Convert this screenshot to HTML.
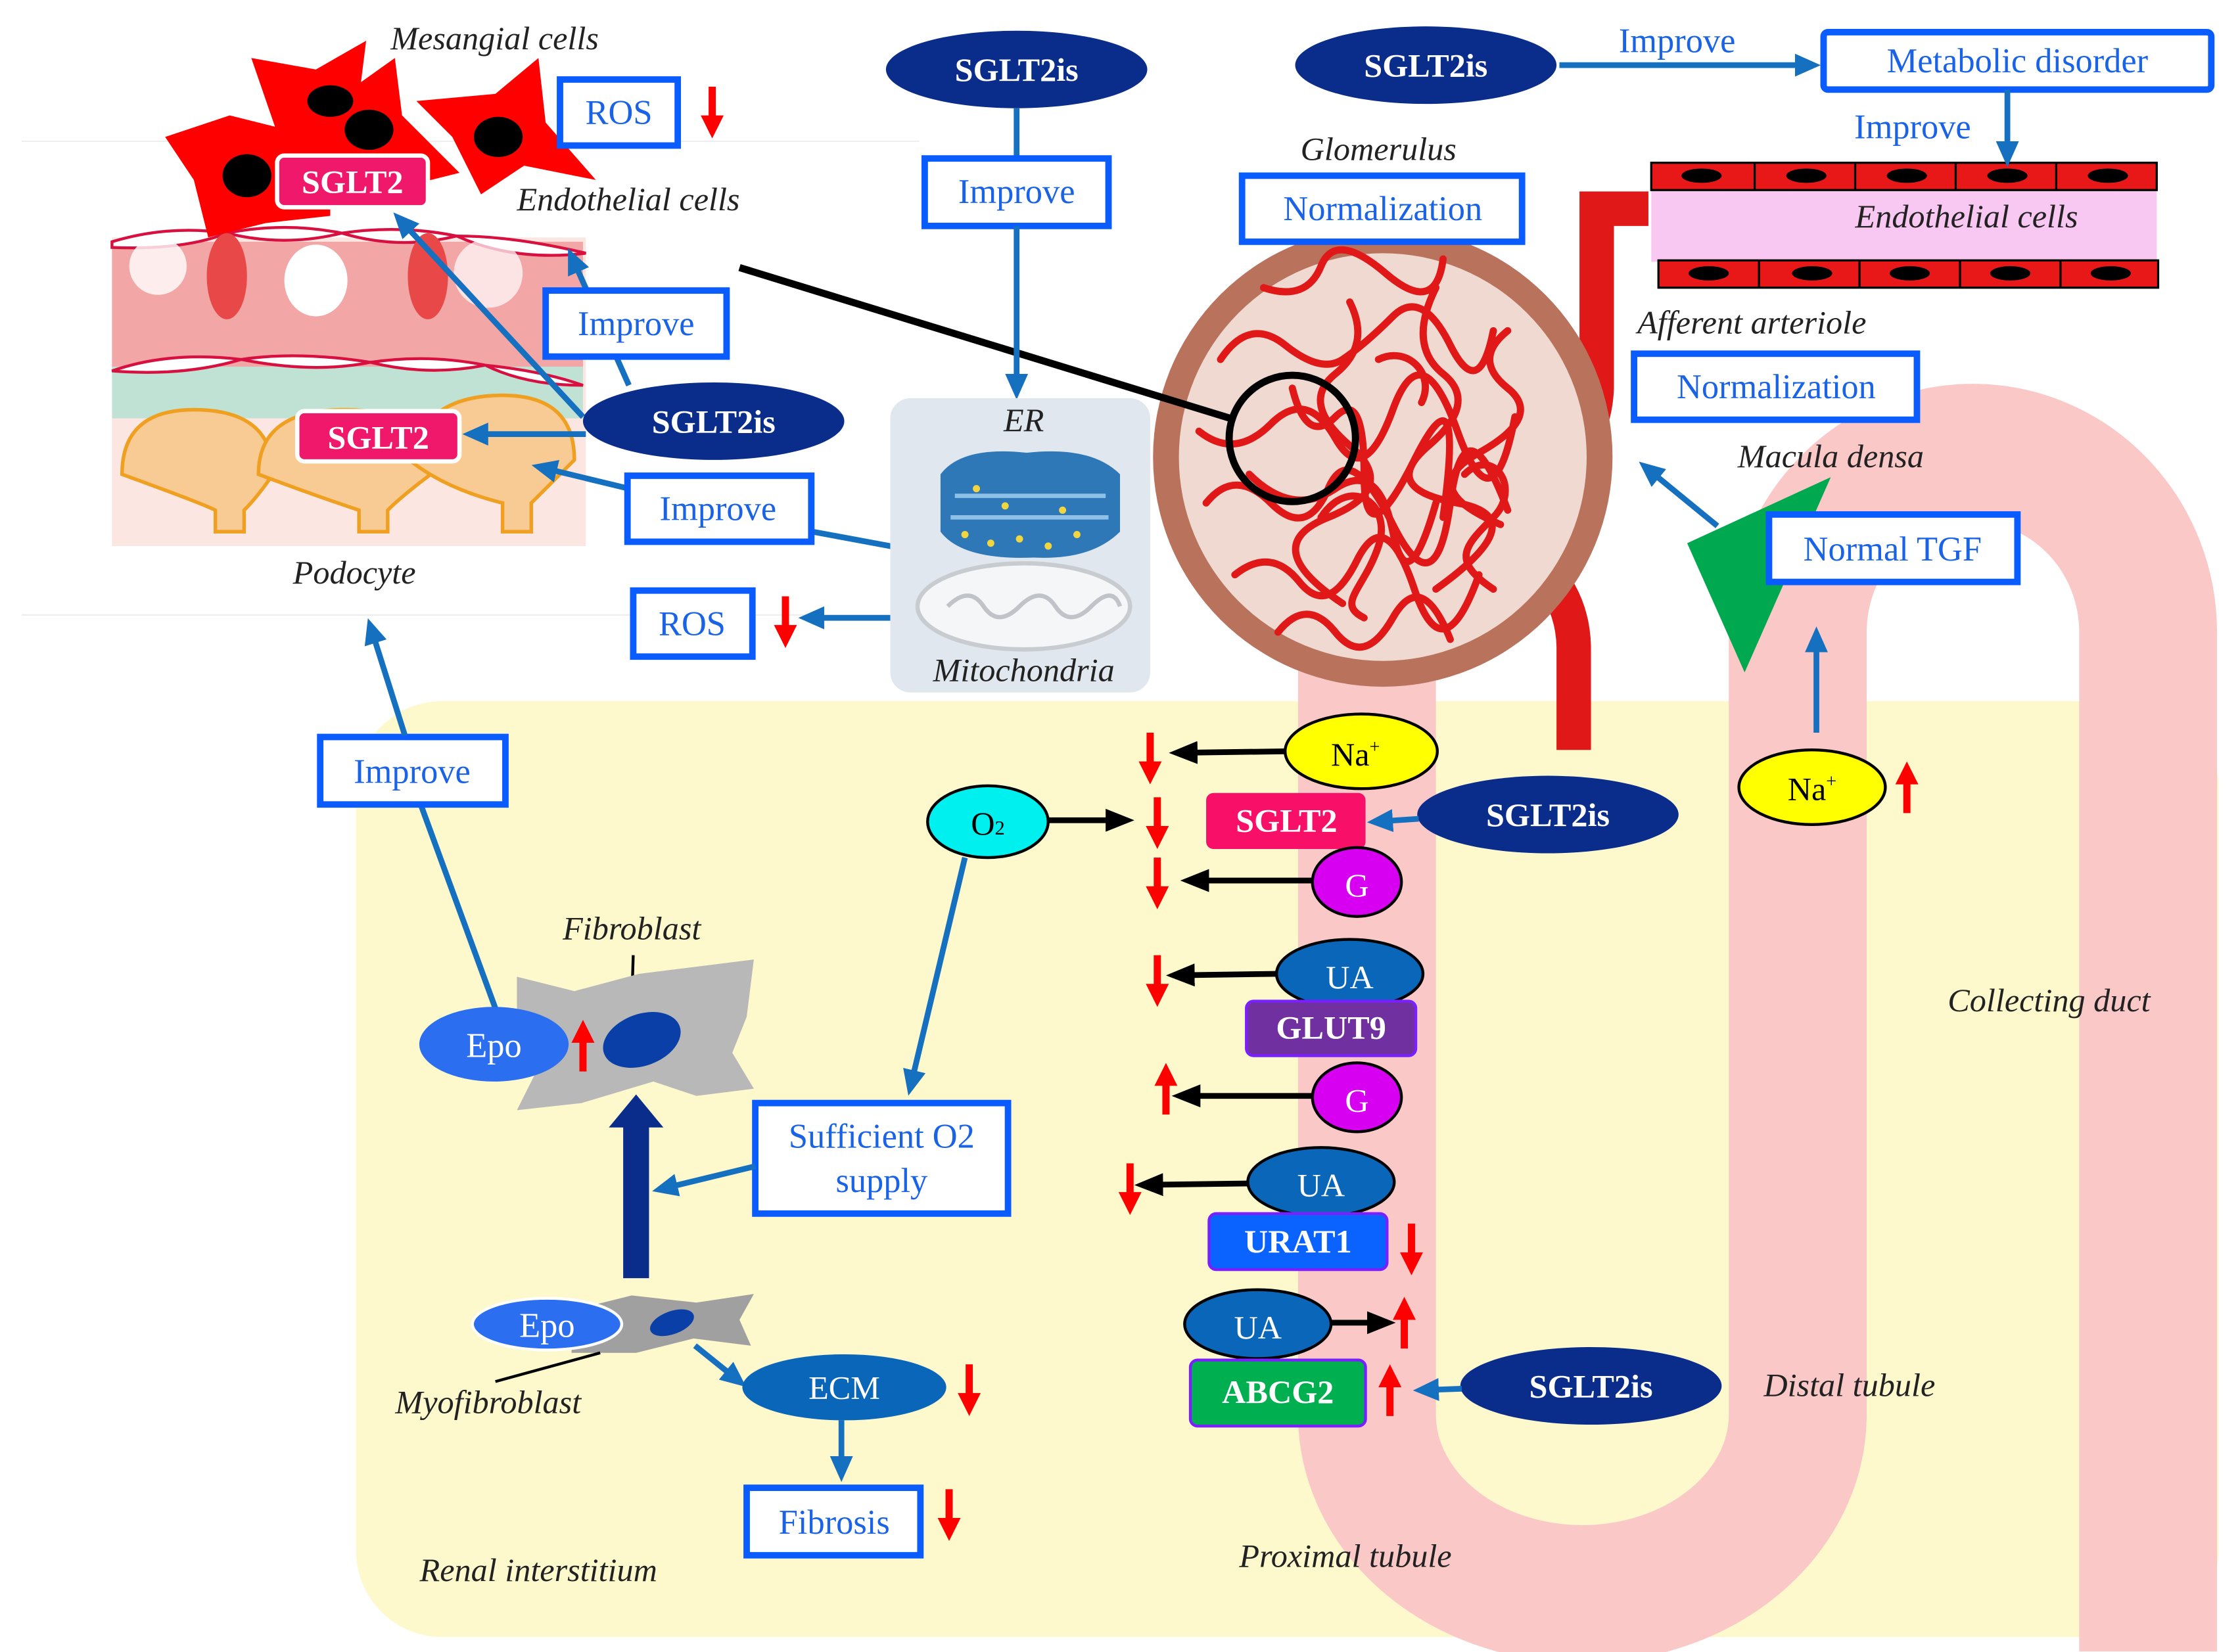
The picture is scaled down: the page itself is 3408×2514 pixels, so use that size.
<!DOCTYPE html>
<html><head><meta charset="utf-8"><style>
html,body{margin:0;padding:0;background:#fff}
svg{display:block}
text{font-family:"Liberation Serif",serif}
.bt{fill:#1a63e6;font-size:24px}
.it{font-style:italic;fill:#222;font-size:23px}
.wb{fill:#fff;font-weight:bold;font-size:23px}
.box{fill:#fff;stroke:#0a5cff;stroke-width:4.5}
.bl{stroke:#1570c0;stroke-width:4;fill:none}
.bk{stroke:#000;stroke-width:4;fill:none}
</style></head><body>
<svg width="3408" height="2514" viewBox="0 0 1560 1150" xmlns="http://www.w3.org/2000/svg">
<defs>
<marker id="ab" markerWidth="10" markerHeight="10" refX="6" refY="5" orient="auto" markerUnits="userSpaceOnUse" viewBox="0 0 10 10"><path d="M0,0 L10,5 L0,10 Z" fill="#1570c0" transform="scale(1)"/></marker>
<marker id="ab2" markerWidth="18" markerHeight="16" refX="12" refY="8" orient="auto" markerUnits="userSpaceOnUse"><path d="M0,0 L18,8 L0,16 Z" fill="#1570c0"/></marker>
<marker id="ak" markerWidth="20" markerHeight="16" refX="14" refY="8" orient="auto" markerUnits="userSpaceOnUse"><path d="M0,0 L20,8 L0,16 Z" fill="#000"/></marker>
<g id="rd"><rect x="-2.5" y="0" width="5" height="24" fill="#f00"/><path d="M-8,20 L8,20 L0,36 Z" fill="#f00"/></g>
<g id="ru"><rect x="-2.5" y="12" width="5" height="24" fill="#f00"/><path d="M-8,16 L8,16 L0,0 Z" fill="#f00"/></g>
</defs>

<!-- faint lines -->
<line x1="15" y1="98" x2="640" y2="98" stroke="#eee" stroke-width="1"/>
<line x1="15" y1="428" x2="640" y2="428" stroke="#eee" stroke-width="1"/>

<!-- yellow interstitium -->
<rect x="248" y="488" width="1297" height="652" rx="60" fill="#fdf9cc"/>

<!-- tubule -->
<path d="M952 460 V985 A150 125 0 0 0 1252 985 V440 A122 125 0 0 1 1496 440 V1150" fill="none" stroke="#fbc8c8" stroke-width="96"/>

<!-- efferent / afferent vessel -->
<path d="M1148 145 H1112 V270 Q1110 320 1060 335" fill="none" stroke="#e01818" stroke-width="24"/>
<path d="M1040 370 Q1095 400 1096 450 V522" fill="none" stroke="#e01818" stroke-width="24"/>

<!-- glomerulus -->
<circle cx="963" cy="318" r="160" fill="#b9735c"/>
<circle cx="963" cy="318" r="142" fill="#f0d9d0"/>
<g fill="none" stroke="#e01818" stroke-width="5" stroke-linecap="round">
<path d="M850 250 q20 -30 45 -10 t40 10 t35 -30 t40 20 t30 -10"/>
<path d="M835 300 q25 20 50 -5 t45 10 t40 -20 t45 15 t40 -10"/>
<path d="M840 350 q20 -25 45 0 t40 -10 t45 25 t40 -15 t40 5"/>
<path d="M860 400 q25 -20 45 5 t40 -15 t40 20 t45 -10"/>
<path d="M890 440 q20 -25 40 0 t40 -10 t40 15"/>
<path d="M880 200 q30 10 40 -15 t45 5 t40 -10"/>
<path d="M900 270 q10 40 30 20 t20 40 t35 -10 t20 40"/>
<path d="M1000 200 q-20 40 5 60 t-10 50 t20 40 t-15 60"/>
<path d="M940 210 q15 30 -10 50 t10 50 t-15 50 t10 60"/>
<path d="M1050 230 q-25 20 0 40 t-20 45 t15 50"/>
<path d="M870 330 q30 30 60 10 t40 30 t30 -20"/>
<path d="M920 360 c20 -30 50 -10 40 20 s-30 40 -10 50"/>
<path d="M1020 330 c20 -20 40 10 20 30 s-30 30 0 50"/>
<path d="M960 250 c20 -10 40 10 30 30"/>
</g>
<circle cx="900" cy="305" r="44" fill="none" stroke="#000" stroke-width="5"/>
<line x1="515" y1="186" x2="860" y2="292" stroke="#000" stroke-width="5"/>

<!-- top-right vessel -->
<rect x="1150" y="130" width="352" height="52" fill="#f9c8f2"/>
<rect x="1150" y="113" width="352" height="19" fill="#e81818" stroke="#000" stroke-width="1.5"/>
<rect x="1155" y="181" width="348" height="19" fill="#e81818" stroke="#000" stroke-width="1.5"/>
<g fill="#000">
<ellipse cx="1185" cy="122" rx="14" ry="5"/><ellipse cx="1258" cy="122" rx="14" ry="5"/><ellipse cx="1328" cy="122" rx="14" ry="5"/><ellipse cx="1398" cy="122" rx="14" ry="5"/><ellipse cx="1468" cy="122" rx="14" ry="5"/>
<ellipse cx="1190" cy="190" rx="14" ry="5"/><ellipse cx="1262" cy="190" rx="14" ry="5"/><ellipse cx="1330" cy="190" rx="14" ry="5"/><ellipse cx="1400" cy="190" rx="14" ry="5"/><ellipse cx="1470" cy="190" rx="14" ry="5"/>
</g>
<g stroke="#000" stroke-width="1.5"><line x1="1222" y1="113" x2="1222" y2="132"/><line x1="1292" y1="113" x2="1292" y2="132"/><line x1="1362" y1="113" x2="1362" y2="132"/><line x1="1432" y1="113" x2="1432" y2="132"/>
<line x1="1225" y1="181" x2="1225" y2="200"/><line x1="1295" y1="181" x2="1295" y2="200"/><line x1="1365" y1="181" x2="1365" y2="200"/><line x1="1435" y1="181" x2="1435" y2="200"/></g>
<text x="1292" y="158" class="it">Endothelial cells</text>

<!-- podocyte illustration -->
<rect x="78" y="165" width="330" height="215" fill="#fbe6e2"/>
<rect x="78" y="168" width="328" height="90" fill="#f3a6a6"/>
<rect x="78" y="255" width="328" height="36" fill="#bfe2d4"/>
<g fill="#f9cb94" stroke="#f0a020" stroke-width="2.5">
<path d="M85 330 q0 -45 50 -45 q55 0 55 45 q-10 15 -20 25 v15 h-20 v-15 q-10 -5 -65 -25z"/>
<path d="M180 330 q0 -45 60 -45 q60 0 60 45 q-20 15 -30 25 v15 h-20 v-15 q-30 -10 -70 -25z"/>
<path d="M285 320 q10 -45 65 -45 q50 0 50 45 q-15 15 -30 30 v20 h-20 v-20 q-40 -10 -65 -30z"/>
</g>
<g fill="#fff" stroke="#d81040" stroke-width="2">
<path d="M78 168 q40 -12 80 -6 q-30 12 -80 10z"/><path d="M158 162 q40 -8 80 0 q-40 10 -80 0z"/><path d="M238 162 q40 -6 80 2 q-40 10 -80 -2z"/><path d="M318 164 q40 0 90 12 q-50 6 -90 -12z"/>
<path d="M78 258 q40 -14 90 -8 q-40 12 -90 8z"/><path d="M168 250 q40 -6 90 2 q-40 8 -90 -2z"/><path d="M258 252 q40 -6 80 2 q-40 8 -80 -2z"/><path d="M338 254 q40 4 68 14 q-40 0 -68 -14z"/>
</g>
<ellipse cx="158" cy="192" rx="14" ry="30" fill="#e84848"/>
<ellipse cx="298" cy="192" rx="14" ry="30" fill="#e84848"/>
<ellipse cx="220" cy="195" rx="22" ry="25" fill="#fff"/>
<ellipse cx="110" cy="185" rx="20" ry="20" fill="#fff" opacity="0.8"/>
<ellipse cx="340" cy="190" rx="24" ry="24" fill="#fff" opacity="0.7"/>

<!-- mesangial cells -->
<g fill="#f00">
<path d="M175 40 l45 8 l35 -20 l-5 40 l30 30 l-50 10 l-30 25 l-5 -35 z"/>
<path d="M195 70 l45 -5 l35 -25 l5 40 l40 40 l-40 10 l-40 -20 l-40 -5 z"/>
<path d="M290 70 l55 -5 l30 -25 l5 45 l35 40 l-50 -10 l-30 20 l-20 -40 z"/>
<path d="M115 95 l45 -15 l40 10 l30 20 l0 40 l-45 5 l-40 10 l-10 -40 z"/>
</g>
<g fill="#000"><ellipse cx="230" cy="70" rx="16" ry="11"/><ellipse cx="257" cy="90" rx="17" ry="14"/><ellipse cx="347" cy="95" rx="17" ry="14"/><ellipse cx="172" cy="122" rx="17" ry="15"/></g>

<rect x="193" y="108" width="105" height="36" rx="5" fill="#f0186a" stroke="#fff" stroke-width="3"/>
<text x="245.5" y="134" class="wb" text-anchor="middle">SGLT2</text>
<rect x="207" y="286" width="113" height="35" rx="5" fill="#f0186a" stroke="#fff" stroke-width="3"/>
<text x="263.5" y="312" class="wb" text-anchor="middle">SGLT2</text>

<text x="272" y="34" class="it">Mesangial cells</text>
<text x="360" y="146" class="it">Endothelial cells</text>
<text x="204" y="406" class="it">Podocyte</text>

<!-- left-top arrows -->
<line x1="406" y1="290" x2="278" y2="152" class="bl" stroke-width="5" marker-end="url(#ab2)"/>
<line x1="408" y1="302" x2="328" y2="302" class="bl" stroke-width="5" marker-end="url(#ab2)"/>
<line x1="438" y1="268" x2="398" y2="178" class="bl" stroke-width="5" marker-end="url(#ab2)"/>
<line x1="438" y1="340" x2="376" y2="325" class="bl" stroke-width="5" marker-end="url(#ab2)"/>
<line x1="566" y1="370" x2="636" y2="383" class="bl" stroke-width="5"/>
<line x1="636" y1="430" x2="562" y2="430" class="bl" stroke-width="5" marker-end="url(#ab2)"/>

<rect x="390" y="55" width="82" height="46" class="box"/><text x="431" y="86" class="bt" text-anchor="middle">ROS</text>
<use href="#rd" x="496" y="60"/>
<rect x="380" y="202" width="126" height="46" class="box"/><text x="443" y="233" class="bt" text-anchor="middle">Improve</text>
<ellipse cx="497" cy="293" rx="91" ry="27" fill="#0a2d8c"/><text x="497" y="301" class="wb" text-anchor="middle">SGLT2is</text>
<rect x="437" y="331" width="128" height="46" class="box"/><text x="500" y="362" class="bt" text-anchor="middle">Improve</text>
<rect x="441" y="411" width="83" height="46" class="box"/><text x="482" y="442" class="bt" text-anchor="middle">ROS</text>
<use href="#rd" x="547" y="415"/>

<!-- top center -->
<ellipse cx="708" cy="48" rx="91" ry="27" fill="#0a2d8c"/><text x="708" y="56" class="wb" text-anchor="middle">SGLT2is</text>
<line x1="708" y1="75" x2="708" y2="110" class="bl" stroke-width="5"/>
<rect x="644" y="110" width="128" height="47" class="box"/><text x="708" y="141" class="bt" text-anchor="middle">Improve</text>
<line x1="708" y1="157" x2="708" y2="272" class="bl" stroke-width="5" marker-end="url(#ab2)"/>
<rect x="620" y="277" width="181" height="205" rx="14" fill="#e1e7ee"/>
<text x="713" y="300" class="it" text-anchor="middle">ER</text>
<path d="M655 330 q15 -20 60 -15 q45 -5 65 15 v40 q-20 20 -60 18 q-50 2 -65 -18 z" fill="#2f78b8"/>
<path d="M665 345 h105 M662 360 h110" stroke="#8ec0e8" stroke-width="3"/>
<g fill="#f2d640"><circle cx="672" cy="372" r="2.5"/><circle cx="690" cy="378" r="2.5"/><circle cx="710" cy="375" r="2.5"/><circle cx="730" cy="380" r="2.5"/><circle cx="750" cy="372" r="2.5"/><circle cx="700" cy="352" r="2.5"/><circle cx="740" cy="355" r="2.5"/><circle cx="680" cy="340" r="2.5"/></g>
<ellipse cx="713" cy="422" rx="74" ry="30" fill="#f4f6f8" stroke="#c8ccd0" stroke-width="3"/>
<path d="M660 422 q15 -15 25 0 t25 0 t25 0 t25 0 t20 0" stroke="#c0c4c8" stroke-width="3" fill="none"/>
<text x="713" y="474" class="it" text-anchor="middle">Mitochondria</text>

<!-- top right -->
<ellipse cx="993" cy="45" rx="91" ry="27" fill="#0a2d8c"/><text x="993" y="53" class="wb" text-anchor="middle">SGLT2is</text>
<line x1="1086" y1="45" x2="1262" y2="45" class="bl" stroke-width="5" marker-end="url(#ab2)"/>
<text x="1168" y="36" class="bt" text-anchor="middle">Improve</text>
<rect x="1270" y="22" width="270" height="40" rx="3" class="box"/><text x="1405" y="50" class="bt" text-anchor="middle">Metabolic disorder</text>
<line x1="1398" y1="62" x2="1398" y2="110" class="bl" stroke-width="5" marker-end="url(#ab2)"/>
<text x="1332" y="96" class="bt" text-anchor="middle">Improve</text>
<text x="960" y="111" class="it" text-anchor="middle">Glomerulus</text>
<rect x="865" y="122" width="195" height="46" class="box"/><text x="963" y="153" class="bt" text-anchor="middle">Normalization</text>
<text x="1220" y="232" class="it" text-anchor="middle">Afferent arteriole</text>
<rect x="1138" y="246" width="197" height="46" class="box"/><text x="1237" y="277" class="bt" text-anchor="middle">Normalization</text>
<text x="1275" y="325" class="it" text-anchor="middle">Macula densa</text>
<path d="M1175 378 L1275 332 L1215 468 Z" fill="#00a850"/>
<line x1="1196" y1="366" x2="1146" y2="325" class="bl" stroke-width="5" marker-end="url(#ab2)"/>
<rect x="1232" y="358" width="173" height="47" class="box"/><text x="1318" y="390" class="bt" text-anchor="middle">Normal TGF</text>
<line x1="1265" y1="510" x2="1265" y2="442" class="bl" stroke-width="5" marker-end="url(#ab2)"/>
<ellipse cx="1262" cy="548" rx="51" ry="26" fill="#ffff00" stroke="#000" stroke-width="2"/><text x="1262" y="557" font-size="23" text-anchor="middle">Na<tspan font-size="13" dy="-9">+</tspan></text>
<use href="#ru" x="1328" y="530"/>

<!-- tubule transport -->
<ellipse cx="948" cy="523" rx="53" ry="26" fill="#ffff00" stroke="#000" stroke-width="2"/><text x="944" y="533" font-size="23" text-anchor="middle">Na<tspan font-size="13" dy="-9">+</tspan></text>
<line x1="895" y1="523" x2="820" y2="524" class="bk" marker-end="url(#ak)"/>
<use href="#rd" x="801" y="510"/>
<ellipse cx="688" cy="572" rx="42" ry="25" fill="#00f0f0" stroke="#000" stroke-width="2"/><text x="688" y="581" font-size="23" text-anchor="middle">O<tspan font-size="14">2</tspan></text>
<line x1="730" y1="571" x2="784" y2="571" class="bk" marker-end="url(#ak)"/>
<use href="#rd" x="806" y="555"/>
<rect x="840" y="552" width="111" height="39" rx="5" fill="#f81068"/><text x="896" y="579" class="wb" text-anchor="middle">SGLT2</text>
<ellipse cx="1078" cy="567" rx="91" ry="27" fill="#0a2d8c"/><text x="1078" y="575" class="wb" text-anchor="middle">SGLT2is</text>
<line x1="988" y1="570" x2="958" y2="572" class="bl" stroke-width="5" marker-end="url(#ab2)"/>
<ellipse cx="945" cy="614" rx="31" ry="24" fill="#d800f0" stroke="#000" stroke-width="2"/><text x="945" y="624" font-size="23" fill="#fff" text-anchor="middle">G</text>
<line x1="914" y1="613" x2="828" y2="613" class="bk" marker-end="url(#ak)"/>
<use href="#rd" x="806" y="597"/>
<ellipse cx="940" cy="678" rx="51" ry="24" fill="#0a66b8" stroke="#000" stroke-width="2"/><text x="940" y="688" class="wb" style="font-weight:normal" text-anchor="middle">UA</text>
<line x1="889" y1="678" x2="818" y2="679" class="bk" marker-end="url(#ak)"/>
<use href="#rd" x="806" y="665"/>
<rect x="868" y="697" width="118" height="38" rx="5" fill="#7030a0" stroke="#7a20ff" stroke-width="2"/><text x="927" y="723" class="wb" text-anchor="middle">GLUT9</text>
<ellipse cx="945" cy="764" rx="31" ry="24" fill="#d800f0" stroke="#000" stroke-width="2"/><text x="945" y="774" font-size="23" fill="#fff" text-anchor="middle">G</text>
<line x1="914" y1="763" x2="822" y2="763" class="bk" marker-end="url(#ak)"/>
<use href="#ru" x="812" y="740"/>
<ellipse cx="920" cy="823" rx="51" ry="24" fill="#0a66b8" stroke="#000" stroke-width="2"/><text x="920" y="833" class="wb" style="font-weight:normal" text-anchor="middle">UA</text>
<line x1="869" y1="824" x2="796" y2="825" class="bk" marker-end="url(#ak)"/>
<use href="#rd" x="787" y="810"/>
<rect x="842" y="845" width="124" height="39" rx="5" fill="#0a62ff" stroke="#7a20ff" stroke-width="2"/><text x="904" y="872" class="wb" text-anchor="middle">URAT1</text>
<use href="#rd" x="983" y="852"/>
<ellipse cx="876" cy="922" rx="51" ry="24" fill="#0a66b8" stroke="#000" stroke-width="2"/><text x="876" y="932" class="wb" style="font-weight:normal" text-anchor="middle">UA</text>
<line x1="927" y1="921" x2="966" y2="921" class="bk" marker-end="url(#ak)"/>
<use href="#ru" x="978" y="903"/>
<rect x="829" y="947" width="122" height="46" rx="5" fill="#00b050" stroke="#7a20ff" stroke-width="2"/><text x="890" y="977" class="wb" text-anchor="middle">ABCG2</text>
<use href="#ru" x="968" y="950"/>
<ellipse cx="1108" cy="965" rx="91" ry="27" fill="#0a2d8c"/><text x="1108" y="973" class="wb" text-anchor="middle">SGLT2is</text>
<line x1="1018" y1="967" x2="990" y2="968" class="bl" stroke-width="5" marker-end="url(#ab2)"/>

<text x="1288" y="972" class="it" text-anchor="middle">Distal tubule</text>
<text x="1427" y="704" class="it" text-anchor="middle">Collecting duct</text>
<text x="937" y="1091" class="it" text-anchor="middle">Proximal tubule</text>
<text x="375" y="1101" class="it" text-anchor="middle">Renal interstitium</text>

<!-- interstitium left -->
<line x1="345" y1="702" x2="293" y2="560" class="bl" stroke-width="5"/>
<rect x="223" y="513" width="129" height="47" class="box"/><text x="287" y="545" class="bt" text-anchor="middle">Improve</text>
<line x1="282" y1="512" x2="258" y2="436" class="bl" stroke-width="5" marker-end="url(#ab2)"/>
<text x="440" y="654" class="it" text-anchor="middle">Fibroblast</text>
<line x1="441" y1="665" x2="440" y2="697" stroke="#000" stroke-width="2"/>
<path d="M360 680 l40 10 l45 -12 l40 -5 l40 -5 l-5 40 l-10 25 l15 25 l-40 5 l-30 -10 l-50 15 l-45 5 l15 -30 l-15 -25 z" fill="#b8b8b8"/>
<ellipse cx="447" cy="724" rx="28" ry="18" fill="#0a3fa8" transform="rotate(-20 447 724)"/>
<ellipse cx="344" cy="727" rx="52" ry="26" fill="#2b6ff0"/><text x="344" y="736" font-size="24" fill="#fff" text-anchor="middle">Epo</text>
<use href="#ru" x="406" y="710"/>
<path d="M434 890 V785 H424 L443 762 L462 785 H452 V890 Z" fill="#0a2d8c"/>
<line x1="672" y1="597" x2="634" y2="757" class="bl" stroke-width="5" marker-end="url(#ab2)"/>
<rect x="526" y="768" width="176" height="77" class="box"/>
<text x="614" y="799" class="bt" text-anchor="middle">Sufficient O2</text>
<text x="614" y="830" class="bt" text-anchor="middle">supply</text>
<line x1="526" y1="812" x2="460" y2="828" class="bl" stroke-width="5" marker-end="url(#ab2)"/>
<path d="M400 912 l40 -10 l45 5 l40 -6 l-10 18 l8 18 l-40 -5 l-40 10 l-45 0 z" fill="#a0a0a0"/>
<ellipse cx="468" cy="921" rx="16" ry="8" fill="#0a3fa8" transform="rotate(-20 468 921)"/>
<ellipse cx="381" cy="922" rx="52" ry="18" fill="#2b6ff0" stroke="#fff" stroke-width="2"/><text x="381" y="931" font-size="24" fill="#fff" text-anchor="middle">Epo</text>
<line x1="345" y1="962" x2="418" y2="942" stroke="#000" stroke-width="2"/>
<text x="340" y="984" class="it" text-anchor="middle">Myofibroblast</text>
<line x1="484" y1="937" x2="515" y2="962" class="bl" stroke-width="5" marker-end="url(#ab2)"/>
<ellipse cx="588" cy="966" rx="71" ry="23" fill="#0a66b8"/><text x="588" y="974" font-size="23" fill="#fff" text-anchor="middle">ECM</text>
<use href="#rd" x="675" y="950"/>
<line x1="586" y1="989" x2="586" y2="1026" class="bl" stroke-width="5" marker-end="url(#ab2)"/>
<rect x="520" y="1036" width="121" height="47" class="box"/><text x="581" y="1068" class="bt" text-anchor="middle">Fibrosis</text>
<use href="#rd" x="661" y="1037"/>
</svg>
</body></html>
